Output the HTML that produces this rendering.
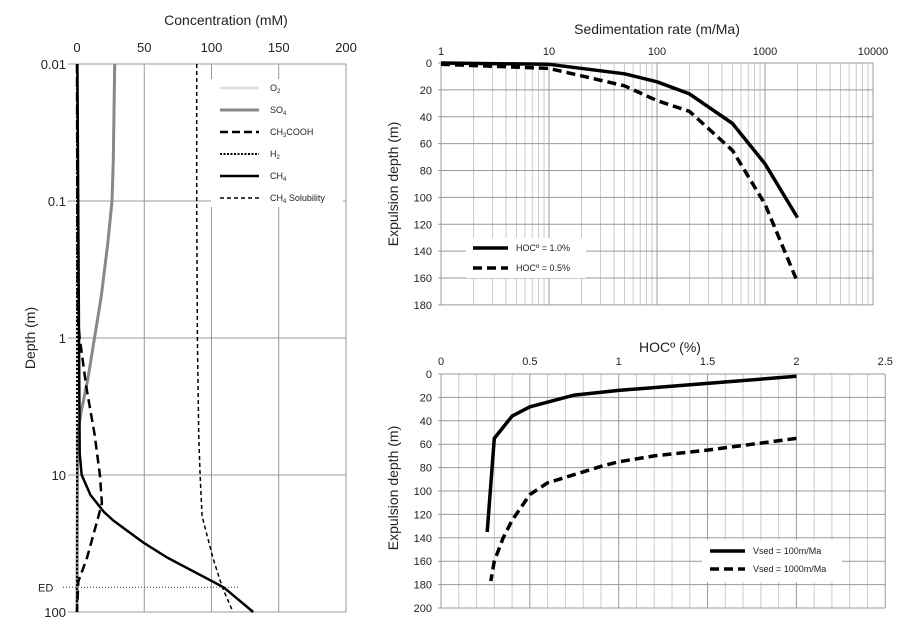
<!DOCTYPE html>
<html><head><meta charset="utf-8"><style>
html,body{margin:0;padding:0;background:#fff;}
svg{display:block;font-family:"Liberation Sans",sans-serif;}
</style></head><body>
<svg id="c" width="920" height="627" viewBox="0 0 920 627" xmlns="http://www.w3.org/2000/svg"></svg>
<script>
// ---- Left chart data (concentration vs depth) ----
const leftXTicks = [0, 50, 100, 150, 200];
const leftYTicks = [0.01, 0.1, 1, 10, 100];
const leftYTickLabels = ['0.01', '0.1', '1', '10', '100'];
const so4Depth = [0.01, 0.05, 0.1, 0.2, 0.5, 1, 2, 3.5, 5, 100];
const so4Conc = [28, 27, 26, 23, 18, 13, 8, 3, 0.5, 0];
const ch4Depth = [0.01, 1, 7, 10, 14, 18.6, 21.5, 31, 40, 66, 100];
const ch4Conc = [0.3, 1.5, 2, 3.5, 10, 20, 27, 49, 67, 109, 131];
const acDepth = [0.01, 0.7, 1, 2.3, 5, 10, 16, 20, 40, 60, 100];
const acConc = [0, 0.5, 2, 7, 13, 17, 18.5, 16, 7.5, 1, 0];
const h2Depth = [0.01, 100];
const h2Conc = [0, 0];
const o2Depth = [0.01, 100];
const o2Conc = [0, 0];
const solDepth = [0.01, 0.1, 1, 5, 10, 20, 40, 66, 100];
const solConc = [89, 89, 89.5, 90.5, 91.5, 93, 101, 108, 116];
const edDepth = 66;
// ---- Top-right chart data ----
const trXTicks = [1, 10, 100, 1000, 10000];
const trYTicks = [0, 20, 40, 60, 80, 100, 120, 140, 160, 180];
const hoc1Rate = [1, 10, 50, 100, 200, 500, 1000, 2000];
const hoc1Depth = [0, 1, 8, 14, 23, 45, 75, 115];
const hoc05Rate = [1, 10, 50, 100, 200, 500, 1000, 2000];
const hoc05Depth = [1, 4, 17, 28, 36, 65, 105, 163];
// ---- Bottom-right chart data ----
const brXTicks = [0, 0.5, 1, 1.5, 2, 2.5];
const brYTicks = [0, 20, 40, 60, 80, 100, 120, 140, 160, 180, 200];
const v100Hoc = [2, 1.5, 1, 0.75, 0.5, 0.4, 0.3, 0.26];
const v100Depth = [2, 8, 14, 18, 28, 36, 55, 135];
const v1000Hoc = [2, 1.5, 1.2, 1, 0.9, 0.75, 0.6, 0.5, 0.4, 0.35, 0.3, 0.28];
const v1000Depth = [55, 65, 70, 75, 79, 86, 93, 103, 125, 140, 160, 177];

const svg = document.getElementById('c');
const NS = 'http://www.w3.org/2000/svg';
function mk(tag, attrs, parent, text) {
  const e = document.createElementNS(NS, tag);
  for (const k in attrs) e.setAttribute(k, attrs[k]);
  if (text !== undefined) e.textContent = text;
  (parent || svg).appendChild(e);
  return e;
}
function line(x1, y1, x2, y2, st, w, dash, name) {
  const e = mk('line', {x1, y1, x2, y2, stroke: st, 'stroke-width': w});
  if (dash) e.setAttribute('stroke-dasharray', dash);
  
  
  return e;
}
function txt(x, y, s, size, anchor, name, rot) {
  const e = mk('text', {x, y, 'font-size': size, 'text-anchor': anchor || 'middle', fill: '#222'}, svg, s);
  if (rot) e.setAttribute('transform', 'rotate(-90 ' + x + ' ' + y + ')');
  
  
  return e;
}
function poly(xs, ys, fx, fy, st, w, dash, name) {
  const pts = xs.map((v, i) => fx(v).toFixed(1) + ',' + fy(ys[i]).toFixed(1)).join(' ');
  const e = mk('polyline', {points: pts, fill: 'none', stroke: st, 'stroke-width': w, 'stroke-linejoin': 'round'});
  if (dash) e.setAttribute('stroke-dasharray', dash);
  
  
  return e;
}

// ===== LEFT CHART =====
const lx = v => 77 + v * 1.345;
const ly = d => 64 + (Math.log10(d) + 2) * 137;
leftXTicks.forEach(t => { line(lx(t), 64, lx(t), 612, '#999', 1, null, 'x-gridline'); txt(lx(t), 52, String(t), 13, 'middle', 'x-tick-label'); });
leftYTicks.forEach((t, i) => { line(68, ly(t), 346, ly(t), '#999', 1, null, 'y-gridline'); txt(66, ly(t) + 5, leftYTickLabels[i], 13, 'end', 'y-tick-label'); });
txt(226, 25, 'Concentration (mM)', 14, 'middle', 'x-axis-title');
txt(35, 338, 'Depth (m)', 14, 'middle', 'y-axis-title', true);
// legend background
const lb = mk('rect', {x: 211, y: 79, width: 132, height: 128, fill: '#fff'});
 
poly(o2Conc, o2Depth, lx, ly, '#ddd', 2.5, null, 'series-o2');
poly(so4Conc, so4Depth, lx, ly, '#888', 3, null, 'series-so4');
poly(solConc, solDepth, lx, ly, '#000', 1.5, '4,3', 'series-ch4-solubility');
poly(acConc, acDepth, lx, ly, '#000', 2.5, '9,5', 'series-ch3cooh');
poly(h2Conc, h2Depth, lx, ly, '#000', 2, '2,2', 'series-h2');
poly(ch4Conc, ch4Depth, lx, ly, '#000', 2.5, null, 'series-ch4');
line(63, ly(edDepth), 240, ly(edDepth), '#333', 1, '1,2', 'ed-line');
txt(38, ly(edDepth) + 4, 'ED', 11, 'start', 'ed-label');
const legL = [['O','2','#ddd',2.5,null],['SO','4','#888',3,null],['CH','3COOH','#000',2.5,'8,4'],['H','2','#000',2,'2,1.5'],['CH','4','#000',2.5,null],['CH','4 Solubility','#000',1.5,'4,3']];
legL.forEach((l, i) => {
  const y = 88 + i * 22;
  line(220, y, 259, y, l[2], l[3], l[4], 'legend-line');
  const t = mk('text', {x: 270, y: y + 3, 'font-size': 9, fill: '#222'});
   
  t.textContent = l[0];
  if (l[1] === '3COOH') { mk('tspan', {'font-size': 6, dy: 2}, t, '3'); mk('tspan', {dy: -2}, t, 'COOH'); }
  else if (l[1] === '4 Solubility') { mk('tspan', {'font-size': 6, dy: 2}, t, '4'); mk('tspan', {dy: -2}, t, ' Solubility'); }
  else mk('tspan', {'font-size': 6, dy: 2}, t, l[1]);
});

// ===== TOP RIGHT =====
const tx = v => 441 + Math.log10(v) * 108;
const ty = d => 63 + d * 1.344;
for (let dec = 1; dec < 10000; dec *= 10) for (let m = 2; m <= 9; m++) line(tx(dec * m), 63, tx(dec * m), 305, '#ccc', 1, null, 'x-minor-gridline');
trXTicks.forEach(t => { line(tx(t), 63, tx(t), 305, '#999', 1, null, 'x-gridline'); txt(tx(t), 55, String(t), 11, 'middle', 'x-tick-label'); });
trYTicks.forEach(t => { line(438, ty(t), 873, ty(t), '#999', 1, null, 'y-gridline'); txt(432, ty(t) + 4, String(t), 11, 'end', 'y-tick-label'); });
txt(657, 34, 'Sedimentation rate (m/Ma)', 14, 'middle', 'x-axis-title');
txt(398, 184, 'Expulsion depth (m)', 14, 'middle', 'y-axis-title', true);
poly(hoc1Rate, hoc1Depth, tx, ty, '#000', 3.5, null, 'series-hoc-1.0');
poly(hoc05Rate, hoc05Depth, tx, ty, '#000', 3.5, '9,5', 'series-hoc-0.5');
const tlb = mk('rect', {x: 466, y: 238, width: 120, height: 40, fill: '#fff'});
 
line(473, 248, 508, 248, '#000', 3.5, null, 'legend-line'); txt(516, 251, 'HOCº = 1.0%', 9, 'start', 'legend-entry');
line(473, 268, 508, 268, '#000', 3.5, '9,5', 'legend-line'); txt(516, 271, 'HOCº = 0.5%', 9, 'start', 'legend-entry');

// ===== BOTTOM RIGHT =====
const bx = v => 441 + v * 177.7;
const by = d => 374 + d * 1.17;
for (let i = 0; i <= 25; i++) line(bx(i / 10), 374, bx(i / 10), 608, i % 5 === 0 ? '#999' : '#ccc', 1, null, 'x-gridline');
brXTicks.forEach(t => txt(bx(t), 365, String(t), 11, 'middle', 'x-tick-label'));
brYTicks.forEach(t => { line(438, by(t), 885, by(t), '#999', 1, null, 'y-gridline'); txt(432, by(t) + 4, String(t), 11, 'end', 'y-tick-label'); });
txt(670, 352, 'HOCº (%)', 14, 'middle', 'x-axis-title');
txt(398, 488, 'Expulsion depth (m)', 14, 'middle', 'y-axis-title', true);
poly(v100Hoc, v100Depth, bx, by, '#000', 3.5, null, 'series-vsed-100');
poly(v1000Hoc, v1000Depth, bx, by, '#000', 3.5, '9,5', 'series-vsed-1000');
const blb = mk('rect', {x: 702, y: 540, width: 140, height: 42, fill: '#fff'});
 
line(710, 551, 745, 551, '#000', 3.5, null, 'legend-line'); txt(753, 554, 'Vsed = 100m/Ma', 9, 'start', 'legend-entry');
line(710, 569, 745, 569, '#000', 3.5, '9,5', 'legend-line'); txt(753, 572, 'Vsed = 1000m/Ma', 9, 'start', 'legend-entry');
</script>
</body></html>
